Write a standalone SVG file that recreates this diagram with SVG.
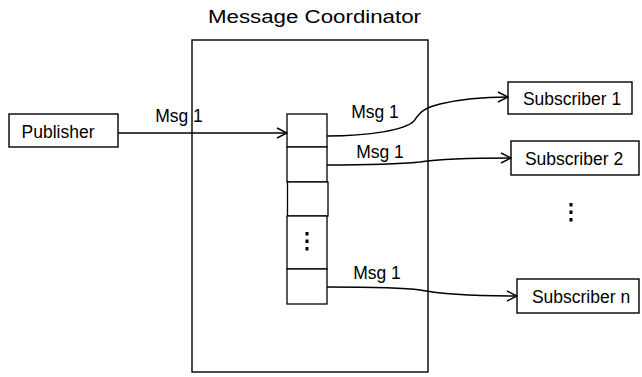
<svg xmlns="http://www.w3.org/2000/svg" width="642" height="377" viewBox="0 0 642 377">
  <style>
    .box { fill: #fff; stroke: #000; stroke-width: 1.4; }
    .cell { fill: #fff; stroke: #000; stroke-width: 1.3; }
    .lbl { font-family: "Liberation Sans", Arial, sans-serif; font-size: 17.5px; fill: #000; }
    .wire { fill: none; stroke: #000; stroke-width: 1.4; marker-end: url(#open); }
    .dot { fill: #000; }
  </style>
  <defs>
    <marker id="open" viewBox="0 0 12 12" refX="11" refY="6" markerWidth="12" markerHeight="12" markerUnits="userSpaceOnUse" orient="auto">
      <path d="M1,1 L11,6 L1,11" fill="none" stroke="#000" stroke-width="1.4"/>
    </marker>
  </defs>

  <!-- coordinator container -->
  <g id="coordinator">
    <rect class="box" x="192" y="40" width="236" height="332"/>
    <text class="lbl" x="314.5" y="23" text-anchor="middle" font-size="21" textLength="213" lengthAdjust="spacingAndGlyphs">Message Coordinator</text>
  </g>

  <!-- queue cells -->
  <g id="queue">
    <rect class="cell" x="287" y="114" width="40" height="33"/>
    <rect class="cell" x="287" y="147" width="40" height="35"/>
    <rect class="cell" x="287.5" y="182" width="40.5" height="34" stroke-width="1.8"/>
    <rect class="cell" x="287" y="216" width="40" height="53"/>
    <rect class="cell" x="287" y="269" width="40" height="35"/>
    <rect class="dot" x="305.5" y="232" width="3" height="3.5"/>
    <rect class="dot" x="305.5" y="239.5" width="3" height="3.5"/>
    <rect class="dot" x="305.5" y="247" width="3" height="3.5"/>
  </g>

  <g id="publisher">
    <rect class="box" x="9" y="114" width="109" height="33"/>
    <text class="lbl" x="58" y="138" text-anchor="middle">Publisher</text>
  </g>

  <g id="subscriber1">
    <rect class="box" x="508" y="82" width="124" height="32"/>
    <text class="lbl" x="572" y="105" text-anchor="middle">Subscriber 1</text>
  </g>

  <g id="subscriber2">
    <rect class="box" x="511" y="141" width="128" height="34"/>
    <text class="lbl" x="574" y="165" text-anchor="middle">Subscriber 2</text>
  </g>

  <g id="subscriber-ellipsis">
    <rect class="dot" x="569.5" y="203" width="3" height="3.5"/>
    <rect class="dot" x="569.5" y="210.5" width="3" height="3.5"/>
    <rect class="dot" x="569.5" y="218" width="3" height="3.5"/>
  </g>

  <g id="subscriberN">
    <rect class="box" x="517" y="279" width="122" height="34"/>
    <text class="lbl" x="581" y="303" text-anchor="middle">Subscriber n</text>
  </g>

  <!-- message flows -->
  <g id="connectors">
    <path class="wire" d="M118,133 L287,133"/>
    <text class="lbl" x="179" y="122" text-anchor="middle">Msg 1</text>

    <path class="wire" d="M327,136 C370,136 405,130 414,121 C420,112 424,108 440,104 C465,98 490,97 508,97"/>
    <text class="lbl" x="375" y="118" text-anchor="middle">Msg 1</text>

    <path class="wire" d="M327,165 C360,165 400,164 420,162 C440,159 480,158 511,158"/>
    <text class="lbl" x="380" y="158" text-anchor="middle">Msg 1</text>

    <path class="wire" d="M327,287 C360,287 400,287 420,290 C440,294 480,296 517,296"/>
    <text class="lbl" x="377" y="279" text-anchor="middle">Msg 1</text>
  </g>
</svg>
